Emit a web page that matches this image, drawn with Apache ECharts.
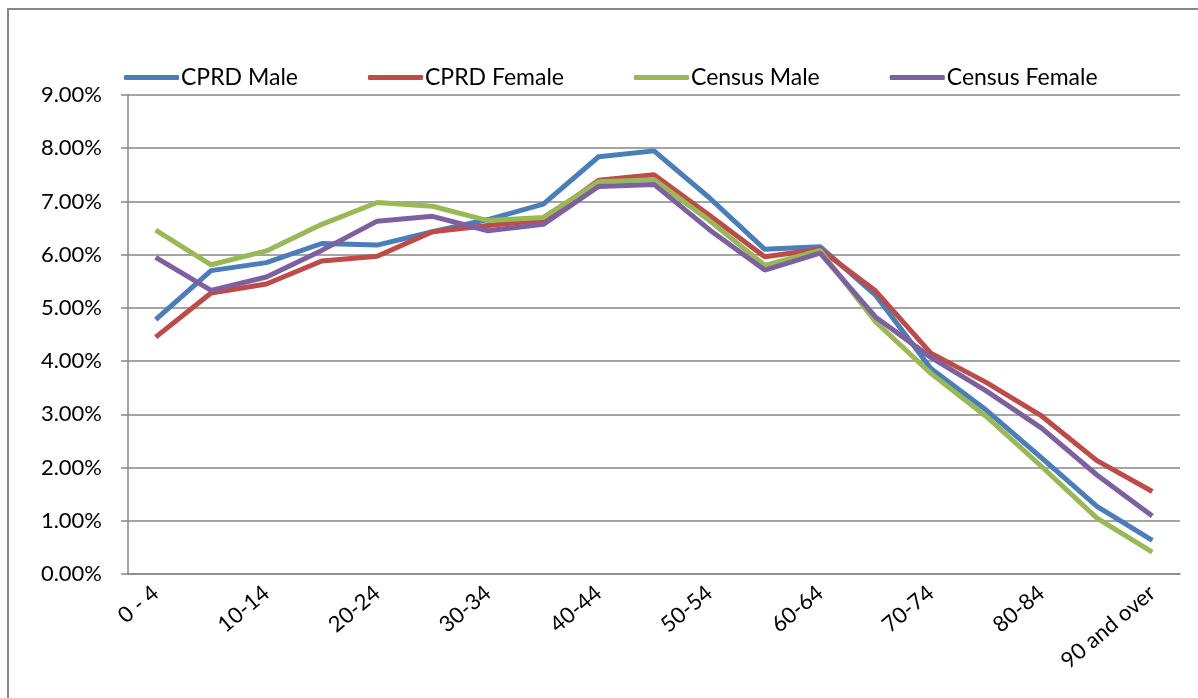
<!DOCTYPE html>
<html>
<head>
<meta charset="utf-8">
<script src="https://cdn.jsdelivr.net/npm/echarts@6/dist/echarts.min.js"></script>
<style>
  html, body { margin: 0; padding: 0; background: #fff; }
  #main { width: 1198px; height: 698px; }
</style>
</head>
<body>
<div id="main"></div>
<script>
// 年龄组
let ageGroups = ['0 - 4', '5-9', '10-14', '15-19', '20-24', '25-29', '30-34', '35-39', '40-44', '45-49',
    '50-54', '55-59', '60-64', '65-69', '70-74', '75-79', '80-84', '85-89', '90 and over'];

// 各组占比 (%)
let cprdMale = [4.78, 5.70, 5.85, 6.21, 6.18, 6.43, 6.66, 6.95, 7.84, 7.95,
    7.07, 6.10, 6.15, 5.24, 3.86, 3.08, 2.18, 1.27, 0.63];
let cprdFemale = [4.45, 5.28, 5.45, 5.88, 5.97, 6.43, 6.55, 6.65, 7.40, 7.50,
    6.74, 5.96, 6.10, 5.32, 4.15, 3.60, 2.97, 2.13, 1.55];
let censusMale = [6.46, 5.81, 6.07, 6.57, 6.98, 6.91, 6.64, 6.70, 7.37, 7.41,
    6.64, 5.80, 6.08, 4.74, 3.77, 2.96, 2.02, 1.05, 0.41];
let censusFemale = [5.95, 5.33, 5.58, 6.08, 6.63, 6.72, 6.45, 6.57, 7.28, 7.32,
    6.47, 5.71, 6.03, 4.83, 4.07, 3.44, 2.74, 1.86, 1.09];

let font = 'Lato, "Open Sans", sans-serif';

function makeLine(name, data, color) {
    return {
        name: name,
        type: 'line',
        data: data,
        symbol: 'none',
        lineStyle: {width: 5, color: color},
        itemStyle: {color: color}
    };
}

let myChart = echarts.init(document.getElementById('main'));
let option = {
    backgroundColor: '#fff',
    animation: false,
    graphic: [
        {
            // 图表外框
            type: 'rect',
            shape: {x: 8, y: 9, width: 1300, height: 800},
            style: {fill: 'none', stroke: '#868686', lineWidth: 2},
            silent: true
        }
    ],
    legend: {
        left: 119,
        top: 61,
        itemWidth: 55,
        itemHeight: 5,
        itemGap: 70,
        icon: 'roundRect',
        textStyle: {fontFamily: font, fontSize: 23, color: '#000', padding: [0, 0, 0, -3]},
        data: ['CPRD Male', 'CPRD Female', 'Census Male', 'Census Female']
    },
    grid: {
        left: 128,
        right: 18,
        top: 95,
        bottom: 124
    },
    xAxis: {
        type: 'category',
        data: ageGroups,
        boundaryGap: true,
        axisLine: {lineStyle: {color: '#868686', width: 1.5}},
        axisTick: {length: 7, interval: 0, lineStyle: {color: '#868686', width: 1.5}},
        axisLabel: {
            interval: 1,
            rotate: 40,
            margin: 16,
            fontFamily: font,
            fontSize: 22,
            color: '#000'
        }
    },
    yAxis: {
        type: 'value',
        min: 0,
        max: 9,
        interval: 1,
        axisLine: {show: true, lineStyle: {color: '#868686', width: 1.5}},
        axisTick: {show: true, length: 7, lineStyle: {color: '#868686', width: 1.5}},
        splitLine: {lineStyle: {color: '#868686', width: 1.5}},
        axisLabel: {
            margin: 26,
            fontFamily: font,
            fontSize: 22,
            color: '#000',
            formatter: function (v) {
                return v.toFixed(2) + '%';
            }
        }
    },
    series: [
        makeLine('CPRD Male', cprdMale, '#4a7ebb'),
        makeLine('CPRD Female', cprdFemale, '#be4b48'),
        makeLine('Census Male', censusMale, '#98b954'),
        makeLine('Census Female', censusFemale, '#7d60a0')
    ]
};
myChart.setOption(option);
</script>
</body>
</html>
